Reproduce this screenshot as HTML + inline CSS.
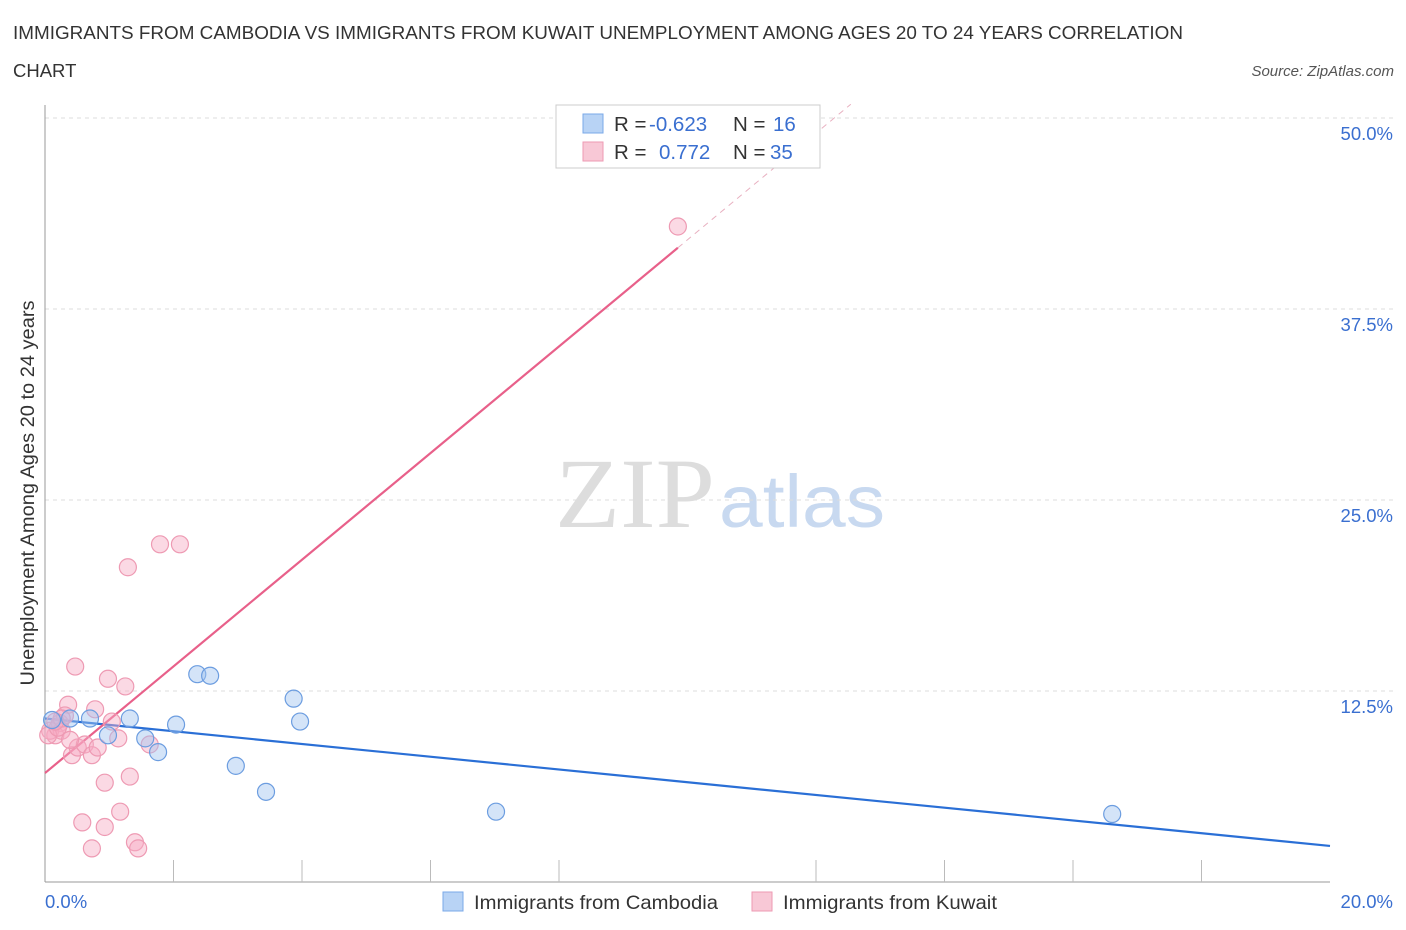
<!DOCTYPE html>
<html><head><meta charset="utf-8"><style>
body{margin:0;background:#fff;font-family:"Liberation Sans",sans-serif;}
svg{display:block}
</style></head><body>
<svg id="chart" width="1406" height="930">
<text x="13" y="39" font-size="18.5" fill="#333" textLength="1170" lengthAdjust="spacingAndGlyphs">IMMIGRANTS FROM CAMBODIA VS IMMIGRANTS FROM KUWAIT UNEMPLOYMENT AMONG AGES 20 TO 24 YEARS CORRELATION</text>
<text x="13" y="77" font-size="18.5" fill="#333">CHART</text>
<text x="1394" y="76" font-size="15" fill="#555" font-style="italic" text-anchor="end">Source: ZipAtlas.com</text>
<text x="34" y="493" font-size="19" fill="#333" text-anchor="middle" textLength="385" lengthAdjust="spacingAndGlyphs" transform="rotate(-90 34 493)">Unemployment Among Ages 20 to 24 years</text>
<g><text x="635" y="527" font-size="100" fill="#ddd" font-family="Liberation Serif,serif" text-anchor="middle" textLength="160" lengthAdjust="spacingAndGlyphs">ZIP</text><text x="802" y="527" font-size="74" fill="#c8d9f0" text-anchor="middle" textLength="166" lengthAdjust="spacingAndGlyphs">atlas</text></g>
<g id="grid"></g><g id="axes"></g><g id="lines"></g><g id="pts"></g>
<g>
<rect x="556" y="105" width="264" height="63" fill="#fff" stroke="#ccc"/>
<rect x="583" y="114" width="20" height="19" fill="#b8d3f5" stroke="#7aa8e8"/>
<text x="614" y="131" font-size="20.5" fill="#333">R = <tspan x="649" fill="#3a6fd0">-0.623</tspan><tspan x="733">N = </tspan><tspan x="773" fill="#3a6fd0">16</tspan></text>
<rect x="583" y="142" width="20" height="19" fill="#f8c8d6" stroke="#ee9ab3"/>
<text x="614" y="159" font-size="20.5" fill="#333">R = <tspan x="659" fill="#3a6fd0">0.772</tspan><tspan x="733">N = </tspan><tspan x="770" fill="#3a6fd0">35</tspan></text>
</g>
<g>
<rect x="443" y="892" width="20" height="19" fill="#b8d3f5" stroke="#7aa8e8"/>
<text x="474" y="909" font-size="19.5" fill="#333" textLength="244" lengthAdjust="spacingAndGlyphs">Immigrants from Cambodia</text>
<rect x="752" y="892" width="20" height="19" fill="#f8c8d6" stroke="#ee9ab3"/>
<text x="783" y="909" font-size="19.5" fill="#333" textLength="214" lengthAdjust="spacingAndGlyphs">Immigrants from Kuwait</text>
</g>
</svg>
<script>
const yTicks=[12.5,25,37.5,50];
const yTickLabels=["12.5%","25.0%","37.5%","50.0%"];
const xTickLabels=["0.0%","20.0%"];
const cambodiaX=[0.11,0.39,0.70,0.98,1.32,1.56,1.76,2.04,2.37,2.57,2.97,3.44,3.87,3.97,7.02,16.61];
const cambodiaY=[10.6,10.7,10.7,9.6,10.7,9.4,8.5,10.3,13.6,13.5,7.6,5.9,12.0,10.5,4.6,4.45];
const kuwaitX=[0.23,0.16,0.08,0.26,0.05,0.20,0.47,0.36,0.31,0.42,0.51,0.62,0.73,0.82,0.78,0.98,1.25,1.04,1.14,1.63,0.93,1.32,0.58,0.93,0.73,1.17,1.40,1.45,1.29,1.79,2.10,9.85,0.26,0.39,0.16];
const kuwaitY=[10.4,9.6,9.9,9.9,9.6,10.1,14.1,11.6,10.9,8.3,8.8,9.0,8.3,8.8,11.3,13.3,12.8,10.5,9.4,9.0,6.5,6.9,3.9,3.6,2.2,4.6,2.6,2.2,20.6,22.1,22.1,42.9,10.7,9.3,10.5];
const cambodiaTrend=[10.7,-0.417];
const kuwaitTrend=[7.13,3.49];
const NS="http://www.w3.org/2000/svg";
const X=v=>45+v*64.25, Y=v=>882-v*15.28;
function mk(p,t,a){const e=document.createElementNS(NS,t);for(const k in a)e.setAttribute(k,a[k]);document.getElementById(p).appendChild(e);return e;}
yTicks.forEach((t,i)=>{
 const g=mk('grid','line',{x1:45,x2:1394,y1:Y(t),y2:Y(t),stroke:'#ddd','stroke-dasharray':'4,4'});
 
 
 const l=mk('axes','text',{x:1393,y:Y(t)+22,'font-size':18.5,fill:'#3a6fd0','text-anchor':'end'});l.textContent=yTickLabels[i];
 
 
});
let a=mk('axes','line',{x1:45,x2:45,y1:105,y2:882,stroke:'#999'});


a=mk('axes','line',{x1:45,x2:1330,y1:882,y2:882,stroke:'#999'});


for(let i=0;i<=10;i++){const t=mk('axes','line',{x1:X(i*2),x2:X(i*2),y1:882,y2:i%5==0?882:860,stroke:'#bbb'});
 
 }
[[0,'start'],[20,'end']].forEach((p,i)=>{const l=mk('axes','text',{x:X(p[0])+(i?63:0),y:908,'font-size':18.5,fill:'#3a6fd0','text-anchor':p[1]});l.textContent=xTickLabels[i];
 
 });
function pts(xs,ys,f,s,n){xs.forEach((x,i)=>{const c=mk('pts','circle',{cx:X(x),cy:Y(ys[i]),r:8.5,fill:f,stroke:s,'stroke-width':1.2});
 
 });}
pts(kuwaitX,kuwaitY,'rgba(246,170,195,0.45)','#ee9ab3','kuwait-point');
pts(cambodiaX,cambodiaY,'rgba(160,195,240,0.45)','#6c9de0','cambodia-point');
let t=mk('lines','line',{x1:X(0),y1:Y(cambodiaTrend[0]),x2:X(20),y2:Y(cambodiaTrend[0]+20*cambodiaTrend[1]),stroke:'#2a6fd6','stroke-width':2.2});


const kEnd=Math.max(...kuwaitX), kTop=(50.9-kuwaitTrend[0])/kuwaitTrend[1];
t=mk('lines','line',{x1:X(0),y1:Y(kuwaitTrend[0]),x2:X(kEnd),y2:Y(kuwaitTrend[0]+kEnd*kuwaitTrend[1]),stroke:'#e8608a','stroke-width':2.2});


t=mk('lines','line',{x1:X(kEnd),y1:Y(kuwaitTrend[0]+kEnd*kuwaitTrend[1]),x2:X(kTop),y2:Y(50.9),stroke:'#e8b0c0','stroke-width':1,'stroke-dasharray':'6,5'});


</script>
</body></html>
